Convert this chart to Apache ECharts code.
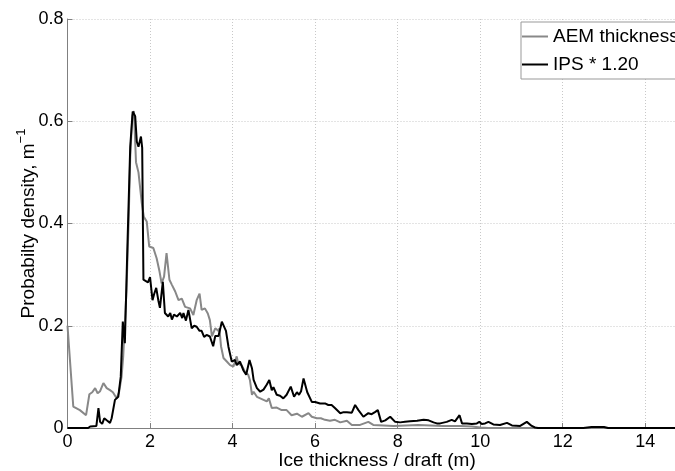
<!DOCTYPE html>
<html>
<head>
<meta charset="utf-8">
<script src="https://cdn.jsdelivr.net/npm/echarts@6/dist/echarts.min.js"></script>
<style>
  html, body { margin: 0; padding: 0; background: #fff; }
  #chart { width: 675px; height: 471px; }
</style>
</head>
<body>
<div id="chart"></div>
<script>
// Thickness distributions: airborne EM thickness vs scaled IPS draft
const aemX = [0, 0.14, 0.3, 0.45, 0.53, 0.6, 0.67, 0.73, 0.79, 0.87, 0.95, 1.03, 1.1, 1.19, 1.25, 1.31, 1.35, 1.39,
  1.43, 1.48, 1.52, 1.57, 1.61, 1.66, 1.72, 1.8, 1.85, 1.92, 1.98, 2.08, 2.16, 2.23, 2.28, 2.34, 2.4, 2.47, 2.53,
  2.61, 2.69, 2.77, 2.85, 2.97, 3.05, 3.13, 3.2, 3.25, 3.33, 3.4, 3.45, 3.5, 3.58, 3.66, 3.68, 3.72, 3.78, 3.86,
  3.94, 4.02, 4.1, 4.14, 4.22, 4.3, 4.38, 4.42, 4.47, 4.51, 4.59, 4.67, 4.75, 4.83, 4.88, 4.95, 5.07, 5.19, 5.31,
  5.43, 5.56, 5.68, 5.84, 5.92, 6.04, 6.14, 6.24, 6.36, 6.48, 6.61, 6.77, 6.89, 7.09, 7.29, 7.41, 7.66, 7.9, 8.2,
  8.5, 8.8, 9.1, 9.5, 9.8, 10.0, 10.2, 15];
const aemY = [0.2, 0.042, 0.035, 0.025, 0.066, 0.07, 0.078, 0.068, 0.072, 0.088, 0.078, 0.074, 0.07, 0.058, 0.07, 0.10, 0.14, 0.14,
  0.27, 0.40, 0.53, 0.61, 0.62, 0.52, 0.50, 0.44, 0.413, 0.404, 0.355, 0.352, 0.332, 0.306, 0.283, 0.296, 0.342, 0.29, 0.28,
  0.267, 0.25, 0.253, 0.237, 0.234, 0.221, 0.25, 0.263, 0.231, 0.234, 0.224, 0.211, 0.179, 0.195, 0.19, 0.195, 0.16, 0.137, 0.13,
  0.123, 0.12, 0.14, 0.125, 0.123, 0.11, 0.104, 0.094, 0.065, 0.071, 0.061, 0.058, 0.055, 0.052, 0.058, 0.039, 0.04, 0.035, 0.035,
  0.025, 0.028, 0.022, 0.029, 0.022, 0.019, 0.019, 0.016, 0.014, 0.016, 0.011, 0.014, 0.006, 0.006, 0.012, 0.006, 0.005, 0.004, 0.005,
  0.006, 0.005, 0.004, 0.004, 0.003, 0.001, 0, 0];

const ipsX = [0, 0.5, 0.55, 0.7, 0.75, 0.79, 0.84, 0.89, 0.95, 0.99, 1.03, 1.07, 1.15, 1.23, 1.29, 1.34, 1.39, 1.45,
  1.52, 1.58, 1.64, 1.68, 1.72, 1.78, 1.81, 1.84, 1.88, 1.95, 2.0, 2.06, 2.1, 2.15, 2.2, 2.24, 2.31, 2.36, 2.44,
  2.49, 2.53, 2.58, 2.65, 2.73, 2.78, 2.81, 2.87, 2.93, 3.01, 3.07, 3.13, 3.2, 3.25, 3.31, 3.37, 3.45, 3.53, 3.58,
  3.66, 3.74, 3.78, 3.84, 3.9, 3.98, 4.06, 4.1, 4.18, 4.26, 4.33, 4.41, 4.47, 4.51, 4.59, 4.67, 4.75, 4.83, 4.89,
  4.95, 4.99, 5.07, 5.15, 5.23, 5.31, 5.41, 5.49, 5.56, 5.61, 5.66, 5.72, 5.81, 5.92, 6.0, 6.12, 6.24, 6.32, 6.4,
  6.48, 6.61, 6.69, 6.77, 6.89, 6.97, 7.05, 7.17, 7.29, 7.37, 7.45, 7.52, 7.6, 7.7, 7.82, 7.94, 8.06, 8.18, 8.3,
  8.47, 8.63, 8.75, 8.87, 8.95, 9.03, 9.19, 9.31, 9.39, 9.5, 9.56, 9.68, 9.8, 9.92, 9.98, 10.04, 10.12, 10.2, 10.32,
  10.48, 10.65, 10.77, 10.97, 11.13, 11.25, 11.33, 11.4, 12.5, 12.7, 13.0, 13.1, 15];
const ipsY = [0, 0, 0.003, 0.004, 0.039, 0.012, 0.008, 0.019, 0.015, 0.012, 0.01, 0.019, 0.055, 0.061, 0.10, 0.208, 0.166, 0.35,
  0.55, 0.619, 0.61, 0.56, 0.55, 0.57, 0.548, 0.29, 0.29, 0.285, 0.295, 0.25, 0.262, 0.274, 0.25, 0.235, 0.286, 0.225, 0.218,
  0.225, 0.212, 0.222, 0.218, 0.225, 0.215, 0.225, 0.21, 0.231, 0.195, 0.2, 0.198, 0.19, 0.19, 0.178, 0.182, 0.179, 0.16, 0.18,
  0.18, 0.208, 0.205, 0.19, 0.159, 0.13, 0.133, 0.123, 0.13, 0.113, 0.104, 0.133, 0.117, 0.094, 0.078, 0.071, 0.075, 0.085, 0.094,
  0.074, 0.08, 0.065, 0.063, 0.058, 0.065, 0.081, 0.061, 0.07, 0.065, 0.072, 0.097, 0.07, 0.051, 0.051, 0.048, 0.048, 0.045, 0.045,
  0.039, 0.029, 0.031, 0.031, 0.03, 0.045, 0.035, 0.022, 0.029, 0.027, 0.031, 0.035, 0.012, 0.015, 0.022, 0.012, 0.011, 0.012, 0.013,
  0.014, 0.016, 0.015, 0.011, 0.009, 0.009, 0.012, 0.016, 0.013, 0.025, 0.009, 0.009, 0.008, 0.009, 0.012, 0.008, 0.009, 0.012, 0.007,
  0.006, 0.01, 0.005, 0.004, 0.012, 0.004, 0.001, 0, 0, 0.002, 0.002, 0, 0];

const seriesNames = ['AEM thickness', 'IPS * 1.20'];
const xTitle = 'Ice thickness / draft (m)';
const yTitle = 'Probabilty density, m';
const yTitleExp = '\u22121';

const zip = (xs, ys) => xs.map((x, i) => [x, ys[i]]);

const font = 'Liberation Sans, Arial, Helvetica, sans-serif';
const axisGray = '#808080';

const chart = echarts.init(document.getElementById('chart'), null, { renderer: 'canvas' });

chart.setOption({
  animation: false,
  backgroundColor: '#ffffff',
  textStyle: { fontFamily: font, color: '#000' },
  grid: {
    left: 67.5, top: 19, bottom: 43, right: -11.5,
    containLabel: false,
    outerBoundsMode: 'none'
  },
  legend: {
    left: 521,
    top: 22,
    orient: 'vertical',
    backgroundColor: '#fff',
    borderColor: '#999',
    borderWidth: 1,
    borderRadius: 0,
    padding: [5, 8, 5, 1],
    itemGap: 9,
    itemWidth: 26,
    itemHeight: 2,
    icon: 'rect',
    textStyle: { fontFamily: font, fontSize: 19, color: '#000', padding: [0, 0, 0, 0] },
    data: seriesNames
  },
  xAxis: {
    type: 'value',
    min: 0,
    max: 15,
    interval: 2,
    name: xTitle,
    nameLocation: 'middle',
    nameGap: 23,
    nameMoveOverlap: false,
    nameTextStyle: { fontFamily: font, fontSize: 19, color: '#000', verticalAlign: 'top' },
    axisLine: { show: true, lineStyle: { color: axisGray, width: 1 } },
    axisTick: { show: true, inside: true, length: 5, lineStyle: { color: axisGray } },
    axisLabel: { fontFamily: font, fontSize: 18, color: '#000', margin: 5, showMaxLabel: false },
    splitLine: { show: true, lineStyle: { color: '#c8c8c8', type: [1, 2], width: 1 } }
  },
  yAxis: {
    type: 'value',
    min: 0,
    max: 0.8,
    interval: 0.2,
    name: '{a|' + yTitle + '}{b|' + yTitleExp + '}',
    nameLocation: 'middle',
    nameGap: 29,
    nameMoveOverlap: false,
    nameRotate: 90,
    nameTextStyle: {
      fontFamily: font,
      fontSize: 19,
      color: '#000',
      rich: {
        a: { fontFamily: font, fontSize: 19, color: '#000', lineHeight: 24, verticalAlign: 'bottom' },
        b: { fontFamily: font, fontSize: 13, color: '#000', lineHeight: 24, verticalAlign: 'top' }
      }
    },
    axisLine: { show: true, lineStyle: { color: axisGray, width: 1 } },
    axisTick: { show: true, inside: true, length: 5, lineStyle: { color: axisGray } },
    axisLabel: { fontFamily: font, fontSize: 18, color: '#000', margin: 4 },
    splitLine: { show: true, lineStyle: { color: '#c8c8c8', type: [1, 2], width: 1 } }
  },
  series: [
    {
      name: seriesNames[0],
      type: 'line',
      data: zip(aemX, aemY),
      symbol: 'none',
      showSymbol: false,
      color: '#888888',
      lineStyle: { color: '#888888', width: 2 },
      z: 2
    },
    {
      name: seriesNames[1],
      type: 'line',
      data: zip(ipsX, ipsY),
      symbol: 'none',
      showSymbol: false,
      color: '#000000',
      lineStyle: { color: '#000000', width: 2 },
      z: 3
    }
  ]
});
</script>
</body>
</html>
